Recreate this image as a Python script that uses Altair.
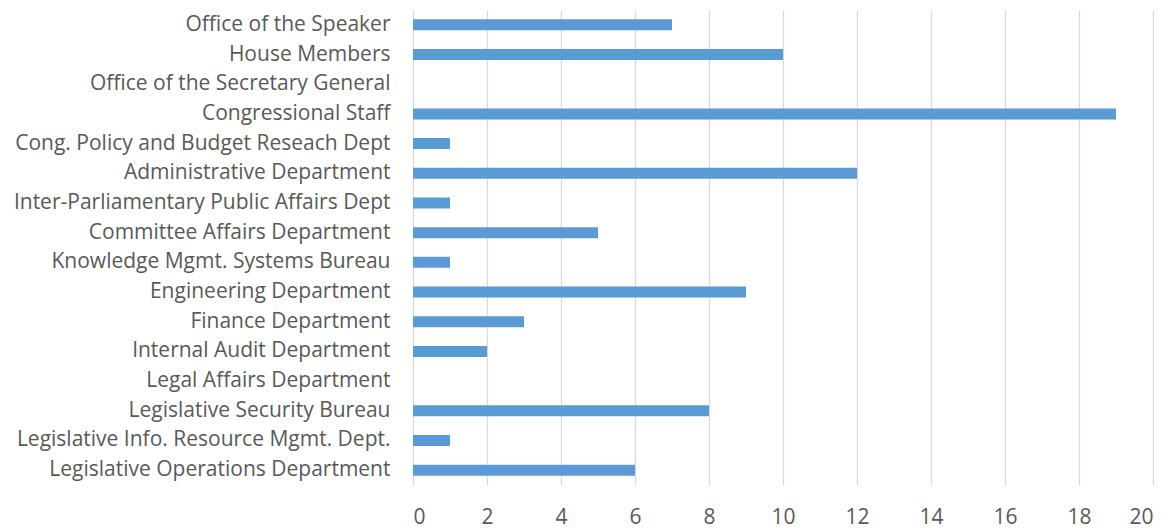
import altair as alt
import pandas as pd

departments = [
    "Office of the Speaker",
    "House Members",
    "Office of the Secretary General ",
    "Congressional Staff",
    "Cong. Policy and Budget Reseach Dept",
    "Administrative Department",
    "Inter-Parliamentary Public Affairs Dept",
    "Committee Affairs Department",
    "Knowledge Mgmt. Systems Bureau",
    "Engineering Department",
    "Finance Department",
    "Internal Audit Department",
    "Legal Affairs Department",
    "Legislative Security Bureau",
    "Legislative Info. Resource Mgmt. Dept. ",
    "Legislative Operations Department",
]
counts = [7, 10, 0, 19, 1, 12, 1, 5, 1, 9, 3, 2, 0, 8, 1, 6]
x_ticks = [0, 2, 4, 6, 8, 10, 12, 14, 16, 18, 20]

df = pd.DataFrame({"dept": departments, "count": counts})

chart = (
    alt.Chart(df)
    .mark_bar(color="#5B9BD5", size=11)
    .encode(
        x=alt.X(
            "count:Q",
            scale=alt.Scale(domain=[0, 20], nice=False),
            axis=alt.Axis(
                values=x_ticks,
                title=None,
                domain=False,
                ticks=False,
                grid=True,
                gridColor="#D9D9D9",
                gridWidth=1.3,
                labelFont="Open Sans",
                labelFontSize=21,
                labelColor="#595959",
                labelPadding=21,
            ),
        ),
        y=alt.Y(
            "dept:N",
            sort=departments,
            scale=alt.Scale(paddingInner=0, paddingOuter=0),
            axis=alt.Axis(
                title=None,
                domain=False,
                ticks=False,
                labelFont="Open Sans",
                labelFontSize=21,
                labelColor="#595959",
                labelPadding=23,
                labelLimit=500,
            ),
        ),
    )
    .properties(
        width=740,
        height=475,
        padding={"left": 5, "top": 2, "right": 5, "bottom": 5},
    )
    .configure_view(stroke=None)
)

chart.save("out.html", embed_options={"renderer": "svg", "actions": False})
